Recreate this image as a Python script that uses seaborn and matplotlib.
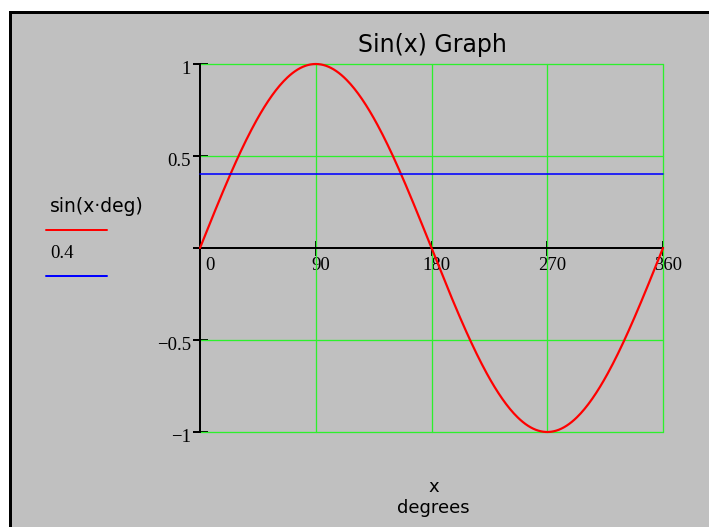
import numpy as np
import pandas as pd
import matplotlib
matplotlib.use("Agg")
import matplotlib.pyplot as plt
import matplotlib.transforms as mtransforms
from matplotlib.patches import Rectangle
from matplotlib.lines import Line2D
import seaborn as sns

# ---- data -------------------------------------------------------------
x_deg = np.arange(0, 361, 1)                 # x in degrees
sin_vals = np.sin(np.deg2rad(x_deg))         # sin(x*deg)
const_level = 0.4                            # horizontal reference level
x_ticks = [0, 90, 180, 270, 360]
y_ticks = [-1, -0.5, 0, 0.5, 1]
y_tick_labels = ["\u22121", "\u22120.5", "", "0.5", "1"]
title_text = "Sin(x) Graph"
legend_labels = ["sin(x\u00b7deg)", "0.4"]
xlabel_lines = ["x", "degrees"]

df = pd.DataFrame({"x": x_deg, "sin": sin_vals,
                   "level": np.full(len(x_deg), const_level)})

# ---- style ------------------------------------------------------------
sns.set_theme(style="white")
W, H = 709, 527
GRAY = "#c0c0c0"
GREEN = "#2cf02c"
SERIF = ["Liberation Serif", "DejaVu Serif"]
SANS = ["DejaVu Sans"]
PX = 72 / 100  # points per pixel at dpi 100

fig = plt.figure(figsize=(W / 100, H / 100), dpi=100)
fig.patch.set_facecolor("white")


def fx(px):
    return px / W


def fy(py):
    return 1 - py / H


# gray panel; its frame shows only on the left and top edges
fig.add_artist(Rectangle((fx(9.5), 0), 1.0, fy(11.5),
                         transform=fig.transFigure, facecolor=GRAY,
                         edgecolor="none", zorder=0))
fig.add_artist(Line2D([fx(9.5), fx(9.5)], [0, fy(11.5)], color="black",
                      lw=3 * PX, transform=fig.transFigure,
                      solid_capstyle="projecting", zorder=0.5))
fig.add_artist(Line2D([fx(9.5), 1], [fy(11.5), fy(11.5)], color="black",
                      lw=3 * PX, transform=fig.transFigure,
                      solid_capstyle="projecting", zorder=0.5))

ax = fig.add_axes([fx(200), fy(432), fx(663) - fx(200), fy(64) - fy(432)])
ax.set_facecolor("none")

sns.lineplot(data=df, x="x", y="sin", ax=ax, color="red",
             linewidth=2.2 * PX, legend=False)
sns.lineplot(data=df, x="x", y="level", ax=ax, color="#0000ff",
             linewidth=1.6 * PX, legend=False)
for ln in ax.get_lines():
    ln.set_clip_on(False)
    ln.set_zorder(4)

ax.set_xlim(0, 360)
ax.set_ylim(-1, 1)

# axes cross at the origin
for side in ("top", "right"):
    ax.spines[side].set_visible(False)
for side in ("left", "bottom"):
    ax.spines[side].set_position(("data", 0))
    ax.spines[side].set_color("black")
    ax.spines[side].set_linewidth(2 * PX)
    ax.spines[side].set_zorder(3)

ax.set_xticks(x_ticks)
ax.set_xticklabels([str(v) for v in x_ticks])
ax.set_yticks(y_ticks)
ax.set_yticklabels(y_tick_labels)
ax.tick_params(axis="both", which="major", bottom=True, left=True,
               direction="inout", length=15 * PX, width=2 * PX,
               color="black", labelsize=13.5, pad=1, labelcolor="black")
for lab in ax.get_xticklabels() + ax.get_yticklabels():
    lab.set_fontfamily(SERIF)

# nudge tick labels the way the axis lays them out
for v, lab in zip(x_ticks, ax.get_xticklabels()):
    dx = 10 if v == 0 else 5
    lab.set_transform(lab.get_transform() +
                      mtransforms.ScaledTranslation(dx / 100, 0, fig.dpi_scale_trans))
for lab in ax.get_yticklabels():
    lab.set_transform(lab.get_transform() +
                      mtransforms.ScaledTranslation(0, -3 / 100, fig.dpi_scale_trans))

# green grid
for gx in [90, 180, 270, 360]:
    ax.plot([gx, gx], [-1, 1], color=GREEN, lw=1.3 * PX, clip_on=False, zorder=1)
for gy in [-1, -0.5, 0.5, 1]:
    ax.plot([0, 360], [gy, gy], color=GREEN, lw=1.3 * PX, clip_on=False, zorder=1)

ax.set_xlabel("")
ax.set_ylabel("")

# title and axis caption
fig.text(fx(432), fy(45), title_text, ha="center", va="center",
         fontsize=17, family=SANS, color="black")
fig.text(fx(434), fy(487), xlabel_lines[0], ha="center", va="center",
         fontsize=13, family=SANS, color="black")
fig.text(fx(433), fy(508), xlabel_lines[1], ha="center", va="center",
         fontsize=13, family=SANS, color="black")

# trace legend on the left
fig.text(fx(50), fy(207), legend_labels[0], ha="left", va="center",
         fontsize=13.5, family=SANS, color="black")
fig.add_artist(Line2D([fx(46), fx(107)], [fy(230), fy(230)], color="red",
                      lw=2 * PX, transform=fig.transFigure))
fig.text(fx(50), fy(253), legend_labels[1], ha="left", va="center",
         fontsize=13.5, family=SERIF, color="black")
fig.add_artist(Line2D([fx(46), fx(107)], [fy(276), fy(276)], color="#0000ff",
                      lw=2 * PX, transform=fig.transFigure))

fig.savefig("out.png", dpi=100)
